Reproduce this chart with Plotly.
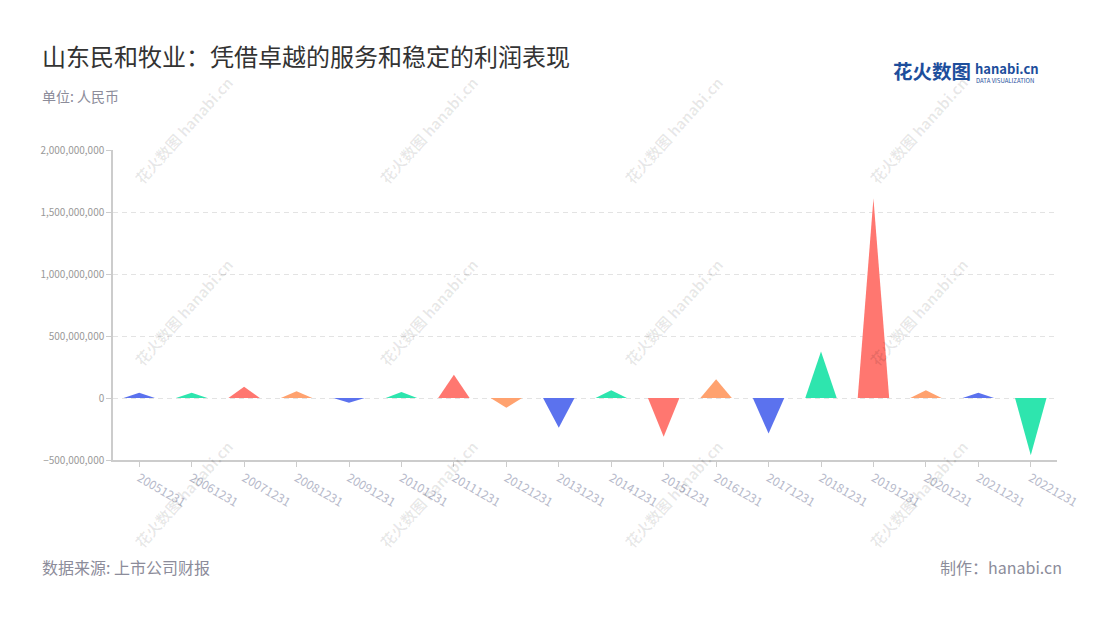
import plotly.graph_objects as go

# ---- data ----
categories = ["20051231", "20061231", "20071231", "20081231", "20091231", "20101231",
              "20111231", "20121231", "20131231", "20141231", "20151231", "20161231",
              "20171231", "20181231", "20191231", "20201231", "20211231", "20221231"]
profits = [42e6, 42e6, 90e6, 54e6, -38e6, 48e6,
           188e6, -78e6, -240e6, 62e6, -312e6, 151e6,
           -287e6, 376e6, 1608e6, 62e6, 43e6, -462e6]
palette = ["#5B72EE", "#2EE5AE", "#FF7770", "#FFA26F"]
y_ticks = [-500e6, 0, 500e6, 1000e6, 1500e6, 2000e6]

title = "山东民和牧业：凭借卓越的服务和稳定的利润表现"
subtitle = "单位: 人民币"
source = "数据来源: 上市公司财报"
credit = "制作：hanabi.cn"

FONT = "Noto Sans CJK SC, Noto Sans, sans-serif"
HALF = 0.3  # half width of triangle in category units

# page layout (the html body adds an 8px offset)
W, H = 1092, 604
L, R, T, B = 105, 43, 142, 152
PW, PH = W - L - R, H - T - B


def px2paper(px, py):
    fx, fy = px - 8, py - 8
    return (fx - L) / PW, (H - B - fy) / PH


fig = go.Figure()
for i, (cat, v) in enumerate(zip(categories, profits)):
    fig.add_trace(go.Scatter(
        x=[i - HALF, i, i + HALF, i - HALF],
        y=[0, v, 0, 0],
        mode="lines",
        fill="toself",
        fillcolor=palette[i % 4],
        line=dict(width=0, color=palette[i % 4]),
        name=cat,
        hoverinfo="skip",
        showlegend=False,
    ))

annotations = []
# watermarks
for cx in [183, 428, 673, 918]:
    for cy in [130, 312, 494]:
        ax, ay = px2paper(cx, cy)
        annotations.append(dict(
            x=ax, y=ay, xref="paper", yref="paper", showarrow=False,
            xanchor="center", yanchor="middle",
            text="<b>花火数图 hanabi.cn</b>", textangle=-48,
            font=dict(family=FONT, size=15, color="rgba(0,0,0,0.09)"),
        ))


def label(text, px, py, size, color, anchor="left"):
    ax, ay = px2paper(px, py)
    annotations.append(dict(
        x=ax, y=ay, xref="paper", yref="paper", showarrow=False,
        xanchor=anchor, yanchor="middle", text=text,
        font=dict(family=FONT, size=size, color=color),
    ))


label(title, 40, 55, 24, "#333333")
label(subtitle, 40, 96, 14, "#8C8C9A")
label(source, 40, 567, 16, "#8C8C9A")
label(credit, 1064, 567, 16, "#8C8C9A", "right")
label("<b>花火数图</b>", 891, 71, 19.5, "#1D4E9C")
label("<b>hanabi.cn</b>", 973, 68, 13, "#1D4E9C")
label("DATA VISUALIZATION", 974, 80, 6, "#1D4E9C")

fig.update_layout(
    width=W, height=H,
    margin=dict(l=L, r=R, t=T, b=B),
    paper_bgcolor="white", plot_bgcolor="white",
    font=dict(family=FONT),
    annotations=annotations,
    xaxis=dict(
        range=[-0.5, len(categories) - 0.5],
        tickmode="array",
        tickvals=list(range(len(categories))),
        ticktext=categories,
        tickangle=30,
        tickfont=dict(size=12, color="#B6B9CA"),
        ticks="outside", ticklen=5, tickcolor="#CCCCCC",
        showline=True, linecolor="#CCCCCC", linewidth=1.5,
        showgrid=False, zeroline=False, fixedrange=True,
    ),
    yaxis=dict(
        range=[-500e6, 2000e6],
        tickmode="array",
        tickvals=y_ticks,
        tickformat=",",
        tickfont=dict(size=10, color="#999999"),
        ticks="outside", ticklen=5, tickcolor="#CCCCCC",
        showline=True, linecolor="#CCCCCC", linewidth=1.5,
        showgrid=True, gridcolor="#E3E3E3", griddash="5px,4px", gridwidth=1,
        zeroline=False, fixedrange=True,
    ),
)

fig.write_html("out.html")
